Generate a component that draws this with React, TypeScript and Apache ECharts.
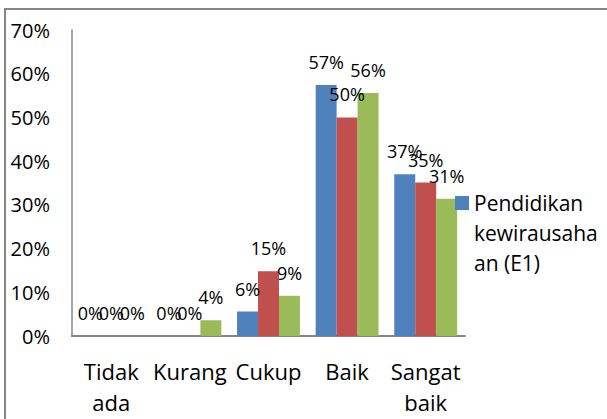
import React, { useEffect, useRef } from "react";
import * as echarts from "echarts";

const categories = ["Tidak ada", "Kurang", "Cukup", "Baik", "Sangat baik"];
const seriesNames = ["Pendidikan kewirausahaan (E1)", "E2", "E3"];
const blueValues = [0, 0, 5.6, 57.4, 37.0];
const redValues = [0, 0, 14.8, 50.0, 35.1];
const greenValues = [0, 3.6, 9.2, 55.6, 31.4];
const colors = ["#4F81BD", "#C0504D", "#9BBB59"];
const FONT = "Open Sans";

export default function App() {
  const ref = useRef<HTMLDivElement>(null);
  useEffect(() => {
    if (!ref.current) return;
    const chart = echarts.init(ref.current, null, { renderer: "svg" });
    const label = {
      show: true,
      position: "top",
      distance: 14,
      color: "#000",
      fontFamily: FONT,
      fontSize: 18,
      formatter: (p: any) => Math.round(p.value) + "%",
    };
    const all = [blueValues, redValues, greenValues];
    chart.setOption({
      animation: false,
      backgroundColor: "#fff",
      textStyle: { fontFamily: FONT },
      graphic: [
        {
          type: "rect",
          shape: { x: 5, y: 9, width: 700, height: 500 },
          style: { fill: "none", stroke: "#868686", lineWidth: 2 },
          silent: true,
        },
      ],
      grid: { left: 72, right: 142, top: 30, bottom: 83, containLabel: false },
      legend: {
        data: [seriesNames[0]],
        left: 455,
        top: 188,
        padding: 0,
        itemWidth: 14,
        itemHeight: 74,
        icon: "path://M0 0H14V14H0ZM0 74L0.01 74L0.01 74.01Z",
        formatter: () => "Pendidikan\nkewirausaha\nan (E1)",
        textStyle: {
          fontFamily: FONT,
          fontSize: 21,
          color: "#000",
          lineHeight: 30,
        },
      },
      xAxis: {
        type: "category",
        data: categories,
        axisLine: { show: true, lineStyle: { color: "#868686", width: 2 } },
        axisTick: { show: false },
        axisLabel: {
          interval: 0,
          margin: 19,
          color: "#000",
          fontFamily: FONT,
          fontSize: 22,
          lineHeight: 31,
          formatter: (v: string) => v.replace(" ", "\n"),
        },
      },
      yAxis: {
        type: "value",
        min: 0,
        max: 70,
        interval: 10,
        axisLine: { show: true, lineStyle: { color: "#868686", width: 1.5 } },
        axisTick: { show: false },
        splitLine: { show: false },
        axisLabel: {
          margin: 22,
          color: "#000",
          fontFamily: FONT,
          fontSize: 20,
          formatter: "{value}%",
        },
      },
      series: all.map((vals, i) => ({
        name: seriesNames[i],
        type: "bar",
        data: vals,
        barGap: "0%",
        barCategoryGap: "20%",
        itemStyle: { color: colors[i] },
        label,
      })),
    });
    return () => chart.dispose();
  }, []);
  return (
    <div
      ref={ref}
      style={{ position: "fixed", left: 0, top: 0, width: 607, height: 419 }}
    />
  );
}
